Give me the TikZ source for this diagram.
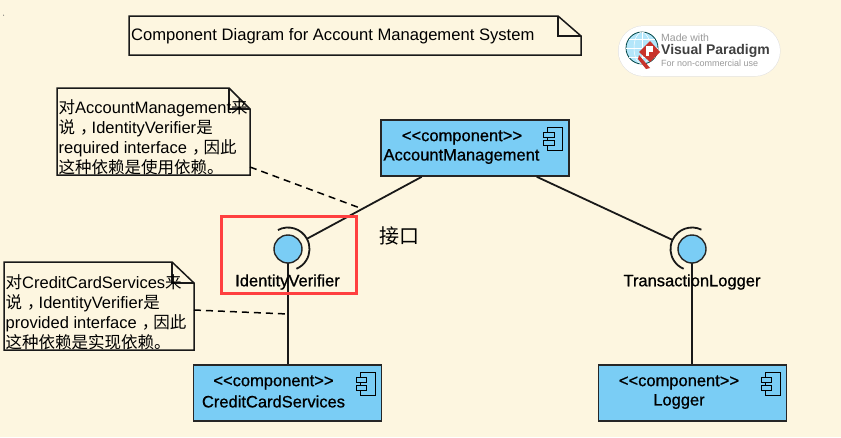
\documentclass[tikz,border=0pt]{standalone}
\usepackage{fontspec}
\setmainfont{Liberation Sans}
\newfontfamily\cjk{Noto Sans CJK SC}
\newfontfamily\boldish[FakeBold=0.8]{Liberation Sans}
\usetikzlibrary{calc}
\definecolor{paper}{HTML}{FDF6E0}
\definecolor{compblue}{HTML}{7ACDF5}
\definecolor{vpred}{HTML}{C8332B}
\definecolor{vpgrey}{HTML}{9A9A9A}
\tikzset{
  comp/.style={draw=black!85,line width=1.6pt,fill=compblue,minimum width=188pt,minimum height=56pt,inner sep=0pt},
  ball/.style={shape=circle,draw=black!85,line width=1.4pt,fill=compblue,minimum size=28pt,inner sep=0pt},
  ballring/.style={shape=circle,draw=none,minimum size=42pt,inner sep=0pt},
  lab/.style={inner sep=0pt,font=\boldish\fontsize{16.5}{19}\selectfont},
  notetext/.style={inner sep=0pt,align=left,anchor=north west,font=\fontsize{16.5}{20}\selectfont},
  wire/.style={line width=1.8pt,black!90},
  dashwire/.style={line width=1.5pt,dash pattern=on 7pt off 5pt},
  noteline/.style={line width=1.5pt,black!90}
}
\newcommand{\cmpicon}[1]{
  \draw[line width=1pt] ($(#1)+(72.5,-21)$) rectangle ($(#1)+(87.5,2)$);
  \draw[line width=1pt,fill=compblue] ($(#1)+(68.5,-16)$) rectangle ($(#1)+(79,-11)$);
  \draw[line width=1pt,fill=compblue] ($(#1)+(68.5,-8)$) rectangle ($(#1)+(79,-3)$);
}
\newcommand{\notebox}[6]{
  \draw[noteline,fill=paper] (#1,#2) -- (#3-#5,#2) -- (#3,#2+#6) -- (#3,#4) -- (#1,#4) -- cycle;
  \draw[noteline] (#3-#5,#2) -- (#3-#5,#2+#6) -- (#3,#2+#6);
}
\newcommand{\zhcomma}{{\cjk\hspace{5pt}，\hspace{-5pt}}}
\begin{document}
\begin{tikzpicture}[x=1pt,y=-1pt]
        \useasboundingbox (0,0) rectangle (841,437);
        \fill[paper] (0,0) rectangle (841,437);
        \fill[black!60] (3.6,15.2) circle (.6);

        % title
        \notebox{129}{16}{581}{55}{23}{20}
        \node[inner sep=0pt,anchor=west,font=\fontsize{16.6}{19}\selectfont] (title) at (131,36) {Component Diagram for Account Management System};

        % watermark
        \fill[black!12,rounded corners=25.5pt] (618,25.5) rectangle (780.5,76.5);
        \fill[white,rounded corners=25pt] (618.5,26) rectangle (780,76);
        \draw[line width=.8pt,draw=black!45!teal,fill=cyan!30] (642,48) circle (16);
        \draw[line width=.5pt,white] (642,32) -- (642,64) (626,48) -- (658,48) (629,39) -- (655,39) (629,57) -- (655,57);
        \draw[line width=.5pt,white] (642,48) ellipse (8 and 16);
        \fill[vpred] (650,41) -- (660,52) -- (650,62) -- (639,52) -- cycle;
        \fill[vpred] (639,55) -- (650,68) -- (646,69) -- (638,59) -- cycle;
        \fill[white] (646,46) rectangle (653,52);
        \fill[white] (646,52) rectangle (649,56);
        \node[inner sep=0pt,anchor=west,text=vpgrey,font=\fontsize{10.5}{12}\selectfont] (vpmade) at (661,38) {Made with};
        \node[inner sep=0pt,anchor=west,text=black!75,font=\bfseries\fontsize{14}{16}\selectfont] (vpname) at (661,50.5) {Visual Paradigm};
        \node[inner sep=0pt,anchor=west,text=vpgrey,font=\fontsize{9}{12}\selectfont] (vpuse) at (661,63) {For non-commercial use};

        % notes
        \notebox{57}{88}{250}{175}{21}{21}
        \node[notetext] (noteam) at (58.5,99.5) {{\cjk 对}AccountManagement{\cjk 来}\\{\cjk 说}\zhcomma IdentityVerifier{\cjk 是}\\required interface\zhcomma{\cjk 因此}\\{\cjk 这种依赖是使用依赖。}};
        \notebox{4}{262}{194}{350}{22}{21}
        \node[notetext] (noteccs) at (5.5,274) {{\cjk 对}CreditCardServices{\cjk 来}\\{\cjk 说}\zhcomma IdentityVerifier{\cjk 是}\\provided interface\zhcomma{\cjk 因此}\\{\cjk 这种依赖是实现依赖。}};

        % components
        \node[comp] (accmgmt) at (475,148) {};
        \node[comp] (ccservices) at (287.5,393) {};
        \node[comp] (logger) at (692.5,393) {};
        \cmpicon{accmgmt}
        \cmpicon{ccservices}
        \cmpicon{logger}
        \node[lab] (accmgmtstereo) at (462,137.5) {<{}<component>{}>};
        \node[lab] (accmgmtname) at (461.5,156.5) {AccountManagement};
        \node[lab] (ccstereo) at (273.5,382.5) {<{}<component>{}>};
        \node[lab] (ccname) at (273.5,401.5) {CreditCardServices};
        \node[lab] (loggerstereo) at (679,382.5) {<{}<component>{}>};
        \node[lab] (loggername) at (679,401.5) {Logger};

        % interfaces
        \node[ballring] (verifierring) at (288,249) {};
        \node[ballring] (txring) at (692,249) {};
        \draw[wire] (288,249) ++(-118:21.5) arc (-118:67:21.5);
        \draw[wire] (692,249) ++(-64:21.5) arc (-64:-247:21.5);
        \draw[wire] (verifierring.center) -- (verifierring.center |- ccservices.north);
        \draw[wire] (txring.center) -- (txring.center |- logger.north);
        \draw[wire] (accmgmt) -- (verifierring);
        \draw[wire] (accmgmt) -- (txring);
        \node[ball] (verifier) at (288,249) {};
        \node[ball] (txlogger) at (692,249) {};
        \node[lab] (verifiername) at (287.5,282) {IdentityVerifier};
        \node[lab] (txname) at (692,282) {TransactionLogger};
        \node[inner sep=0pt,font=\cjk\fontsize{20}{22}\selectfont] (jiekou) at (399.5,236) {接口};

        % dependencies
        \coordinate (amfoot) at (360,208);
        \coordinate (amhead) at (250,167);
        \coordinate (ccfoot) at (288,314);
        \coordinate (cchead) at (194,310);
        \draw[dashwire] (amhead) -- (amfoot);
        \draw[dashwire] (cchead) -- (ccfoot);

        % highlight
        \draw[line width=3pt,draw=red!75!white] (221,216) rectangle (356,293);
\end{tikzpicture}
\end{document}
